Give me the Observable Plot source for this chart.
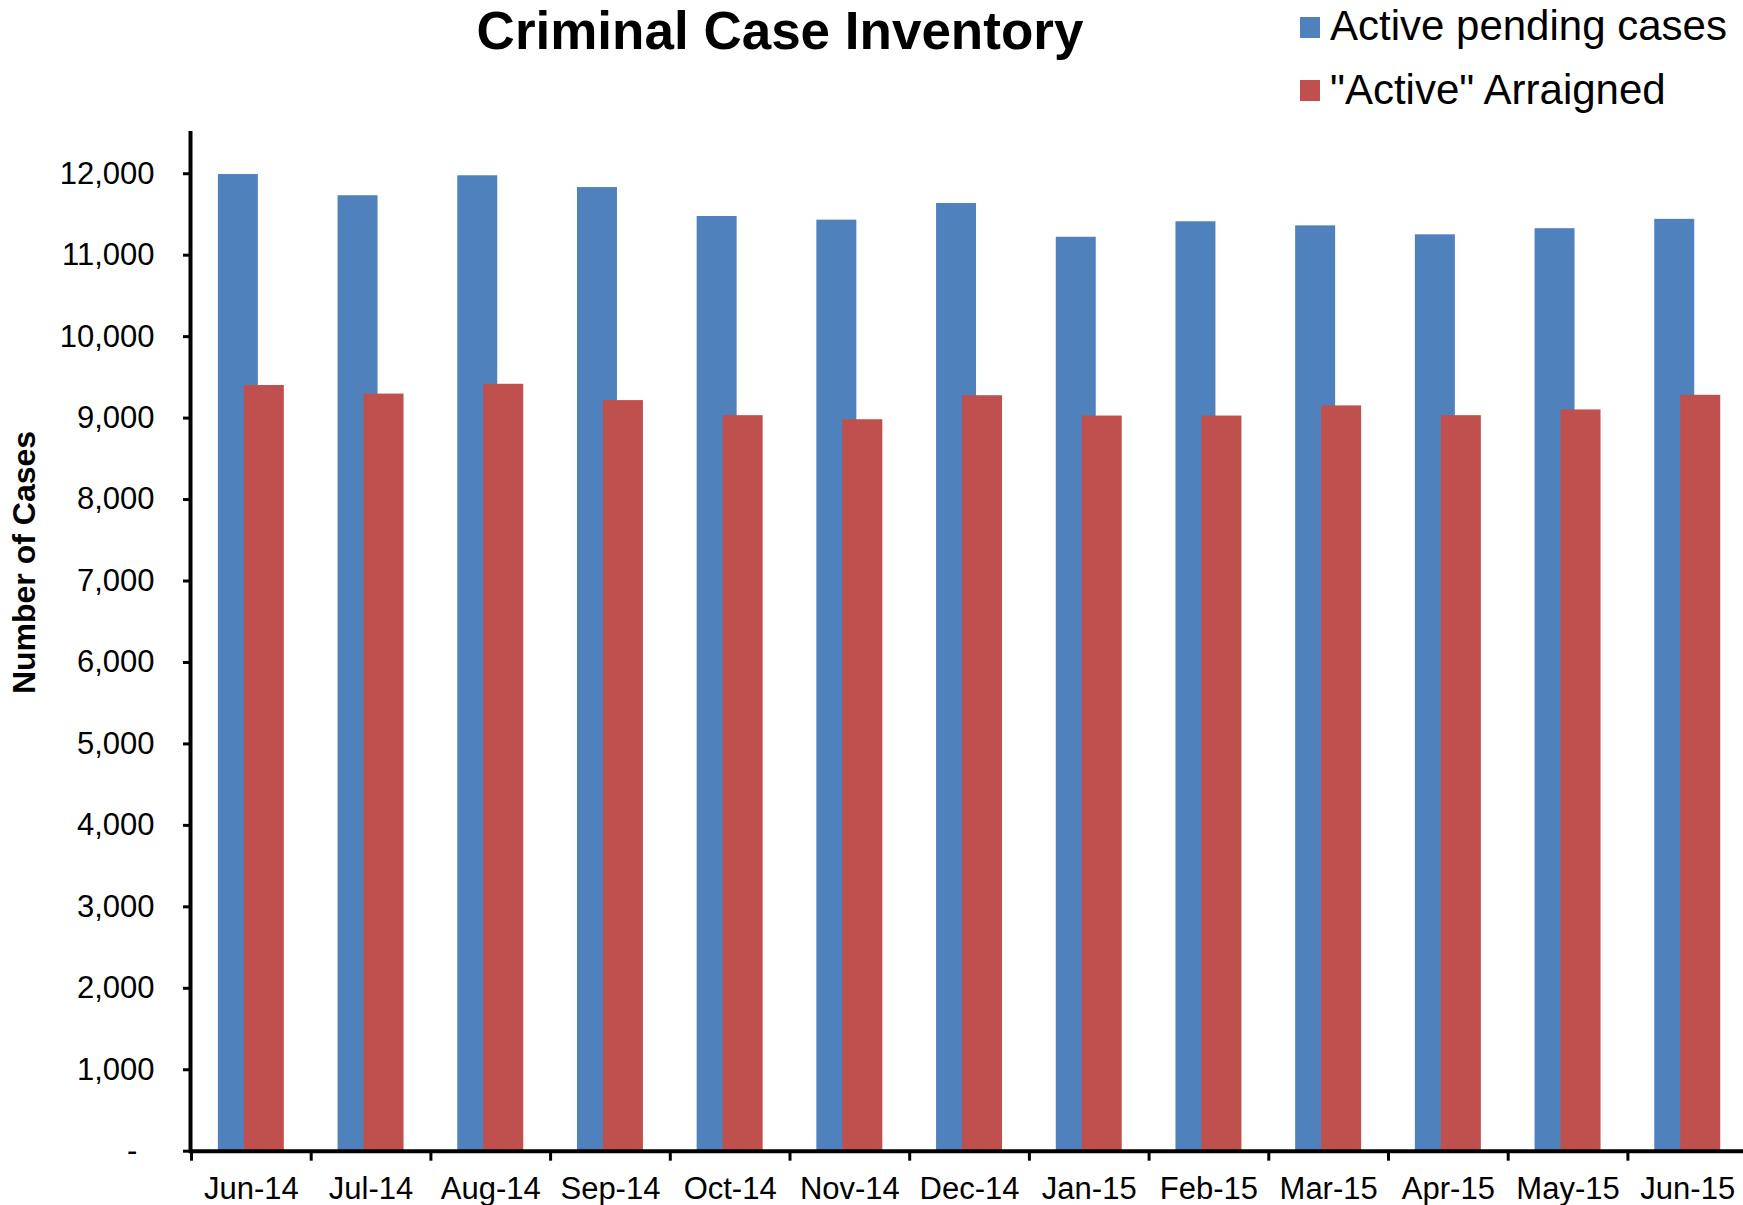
<!DOCTYPE html>
<html><head><meta charset="utf-8">
<script src="https://cdn.jsdelivr.net/npm/d3@7"></script>
<script src="https://cdn.jsdelivr.net/npm/@observablehq/plot@0.6"></script>
<style>
body{margin:0;background:#fff;overflow:hidden;font-family:"Liberation Sans",Arial,sans-serif;color:#000;}
#wrap{width:1743px;height:1205px;position:relative;overflow:hidden;}
#header{position:relative;height:120px;}
#title{position:absolute;left:780px;top:4px;transform:translateX(-50%);font-size:53px;line-height:53px;font-weight:bold;white-space:nowrap;}
.leg{position:absolute;left:1330px;font-size:42px;line-height:42px;white-space:nowrap;}
.sw{position:absolute;left:1300px;width:20px;height:21px;}
</style>
</head><body>
<div id="wrap">
  <div id="header"></div>
  <div id="chart"></div>
</div>
<script>
const title = "Criminal Case Inventory";
const yLabel = "Number of Cases";
const seriesNames = ["Active pending cases", "\"Active\" Arraigned"];
const seriesColors = ["#4F81BD", "#C0504D"];
const months = ["Jun-14","Jul-14","Aug-14","Sep-14","Oct-14","Nov-14","Dec-14","Jan-15","Feb-15","Mar-15","Apr-15","May-15","Jun-15"];
const activePending = [11990, 11730, 11975, 11830, 11475, 11430, 11635, 11220, 11410, 11360, 11250, 11325, 11440];
const activeArraigned = [9400, 9295, 9415, 9215, 9030, 8980, 9275, 9025, 9025, 9150, 9030, 9100, 9280];
const yTicks = [0,1000,2000,3000,4000,5000,6000,7000,8000,9000,10000,11000,12000];

const rows = months.map((m, i) => ({month: m, pending: activePending[i], arraigned: activeArraigned[i]}));

// header: title + legend
const header = document.getElementById("header");
const t = document.createElement("div");
t.id = "title"; t.textContent = title; header.appendChild(t);
const swTops = [17, 80], txtTops = [4.5, 68.5];
seriesNames.forEach((name, i) => {
  const sw = document.createElement("div");
  sw.className = "sw"; sw.style.top = swTops[i] + "px"; sw.style.background = seriesColors[i];
  header.appendChild(sw);
  const tx = document.createElement("div");
  tx.className = "leg"; tx.style.top = txtTops[i] + "px"; tx.textContent = name;
  header.appendChild(tx);
});

const fmt = d3.format(",");
const step = (1747.1 - 191) / months.length;

const chart = Plot.plot({
  width: 1743,
  height: 1085,
  marginLeft: 190,
  marginRight: 0,
  marginTop: 12.5,
  marginBottom: 54.3,
  style: {fontFamily: "'Liberation Sans', Arial, sans-serif", fontSize: "31px", color: "#000", background: "transparent", overflow: "visible"},
  x: {type: "band", domain: months, range: [191, 1747.1], paddingInner: 0.666, paddingOuter: 0.333, round: false},
  y: {domain: [0, 12500]},
  marks: [
    Plot.barY(rows, {x: "month", y: "pending", fill: seriesColors[0], dx: -13}),
    Plot.barY(rows, {x: "month", y: "arraigned", fill: seriesColors[1], dx: 13}),
    Plot.axisY({ticks: yTicks, tickSize: 7, tickPadding: 29, fontSize: 31, strokeWidth: 3, label: null,
      tickFormat: d => d === 0 ? "-\u00a0\u00a0" : fmt(d)}),
    Plot.axisX({tickSize: 10, text: null, dx: -step / 2, strokeWidth: 3, label: null}),
    Plot.axisX({tickSize: 0, tickPadding: 26, fontSize: 31, label: null}),
    Plot.ruleY([0], {strokeWidth: 4}),
    Plot.frame({anchor: "left", strokeWidth: 4}),
    Plot.text([yLabel], {text: d => d, frameAnchor: "left", textAnchor: "middle", lineAnchor: "middle", dx: -166, dy: -79.6, rotate: -90, fontSize: 32, fontWeight: "bold"})
  ]
});
document.getElementById("chart").appendChild(chart);
</script>
</body></html>
